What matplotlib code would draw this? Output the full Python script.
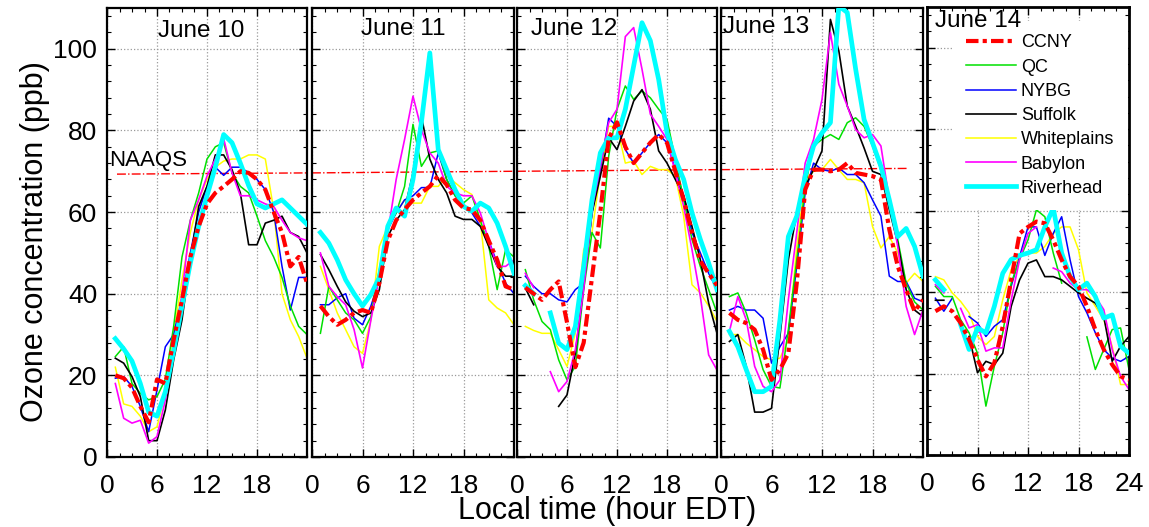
import numpy as np
import matplotlib
matplotlib.use("Agg")
import matplotlib.pyplot as plt
from matplotlib.ticker import MultipleLocator

plt.rcParams['font.family'] = ['Liberation Sans', 'DejaVu Sans']

nan = np.nan
hours = list(range(1, 25))
days = ["June 10", "June 11", "June 12", "June 13", "June 14"]
stations = ["CCNY", "QC", "NYBG", "Suffolk", "Whiteplains", "Babylon", "Riverhead"]

ccny = [
    [20, 19.3, 17, 12.4, 8.5, 19, 18, 28.7, 38.5, 49, 56.5, 62, 64.7, 66.3, 68, 70, 69.6, 68, 65.5, 60, 55, 46.7, 49, 42.6],
    [37, 34.4, 32.4, 33.6, 35.3, 36, 35.3, 42.6, 53, 58, 60.6, 63, 64.7, 66.3, 69, 66.7, 63, 61, 60.6, 58, 53, 48.3, 41.8, 41],
    [41.5, 40, 38.5, 41, 43, 33, 22, 28, 44, 60, 78, 82, 76, 72, 74.5, 77, 79, 77, 70, 63, 55, 48, 45, 42],
    [35.3, 33.6, 32.8, 31.2, 26.3, 18.9, 21.4, 25.4, 42.6, 65.5, 70.4, 70.4, 70, 70.4, 72, 69.6, 69.2, 68.8, 68, 55.7, 46.7, 41, 35.7, 38.5],
    [35.3, 36.5, 35.3, 32.4, 28.3, 23.4, 19.3, 22.6, 31.6, 43, 54.4, 56, 57.3, 56.9, 52.8, 47.9, 43.8, 41.4, 36.5, 30.8, 25.9, 22.2, 19.3, 18.5],
]
qc = [
    [24.6, 27, 18, 15.6, 14, 14.8, 19, 32, 49, 58, 64.7, 73, 76, 77, 69.6, 66.3, 64.7, 59, 53, 49, 44, 37, 32, 30],
    [30.3, 41.8, 38.5, 35.3, 33.6, 30.3, 34.4, 45.9, 56.5, 59.8, 66.3, 81.5, 71.2, 74.5, 75, 68, 64, 62.2, 64, 58, 51.6, 41, 50.8, 49],
    [45.9, 38.5, 33.2, 31.2, 23.8, 18.9, 22.2, 41, 55, 51.2, 73.7, 85.2, 90.9, 87.6, 89.7, 88, 85.2, 82.7, 72.9, 63, 53.3, 46.7, 41, 35.3],
    [39.3, 40.2, 35.3, 28.7, 21.4, 17.3, 16.9, 31.2, 48.3, 66.3, 76.2, 77.8, 79, 77.8, 81.9, 83.1, 81, 76.2, 70.4, 63, 53.3, 42.6, 38, 36],
    [41.4, 38.9, 38.9, 33.2, 30, 25, 12, 21.8, 30, 42.2, 48, 52.8, 60.2, 58.5, 49.6, 42.2, nan, nan, 29, 21, 25.9, 30.8, 31.2, 21],
]
nybg = [
    [19.3, 19.7, 17.3, 12.4, 6.2, 16.4, 27, 30, 39, 50, 60, 66.3, 71, 69, 71, 71, 69.6, 68, 65.5, 60, 46.7, 36, 44, 44],
    [37.3, 37.3, 39, 40, 34, 32.4, 37, 43.4, 55.7, 59.8, 63, 64, 66, 66, 74.5, 68, 64, 61.8, 59.8, 56.5, 53, 47.5, 42.6, 40],
    [44.3, 41.8, 40, 40, 38.5, 38, 41, 42.6, 59.8, 70.4, 83, 81, 75.3, 72, 74.5, 77, 79, 77, 70.4, 64, 55, 50, 45, 41],
    [36, 36.9, 36, 36, 34, 23, 27, 30.3, 46.7, 64.7, 72, 70.4, 70, 70.8, 69.2, 69.2, 67.2, 63, 59, 44.3, 43, 43, 38.9, 38],
    [38.5, 35.3, 38.5, nan, 34, 32.4, 29.1, 31.6, 33.2, 41.4, 48.7, 56, 56, 49, 54.4, 58.5, 47.9, 38.9, 34.9, 30, 25.9, 23.8, 23, 24.2],
]
suffolk = [
    [24.2, 23, 19.7, 14.8, 4, 4, 11.5, 23.8, 33.6, 48.3, 61.4, 66.3, 74, 74, 70.4, 64.7, 52, 52, 57.3, 58, 59, 55, 54, 50],
    [49.6, 45.9, 41.8, 38, 35.7, 34.4, 35.3, 41, 54, 58, 60.6, 69.6, 83.5, 73, 68, 64.7, 59, 58.2, 58.2, 56.5, 51.6, 46.7, 44.3, 44.3],
    [41.4, 37.3, nan, nan, 12.4, 15.2, 25.4, 41.8, 59.8, 68.8, 78.2, 75.3, 81, 87.2, 90, 85.2, 75, 72, 68, 64, 56.5, 48.3, 37.7, 30.3],
    [28.3, 30, 22.2, 11, 11, 11.9, 29.5, 48.3, 59.8, 66.3, 70.4, 75, 107.2, 99.5, 86, 81, 75.7, 70, 69.2, 60.6, 52.4, 41, 36, 34.4],
    [38, 38, nan, nan, 29.1, 20.2, 23, 22.2, 25, 36.5, 43, 47.1, 47.9, 43.8, 43.8, 43, 41.4, 39.8, 38.5, 37.3, 34, 23, 26.7, 29.1],
]
whiteplains = [
    [22, 13, 12.4, 10, 6.2, 7.4, 15.6, 30, 43.4, 55, 63, 68, 71, 72.5, 73, 73, 74, 74, 73, 60.6, 40, 33.6, 29.5, 24.2],
    [46.7, 41, 35.3, 31.2, 27, 25.4, 33.6, 51.6, 56.5, 59.8, 63, 62.2, 62.2, 66.3, 66.3, 68.8, 67.2, 65.5, 64.3, 58, 38.5, 36.5, 35.3, 32.4],
    [32, 31, 30.3, 30.3, 26.3, 22.2, 30.3, 50.8, 55, 69.6, 81, 81, 72, 72.5, 69.2, 71.2, 70.4, 70.4, 68.8, 59, 42.2, 40.2, 37, 33.2],
    [30, 30, 27.9, 26.3, 24.6, 23.8, 24.2, 28.7, 51.6, 68, 70, 70.4, 72.9, 70.4, 68, 68, 67.2, 56.5, 51.2, 54, 50, 42.6, 45, 43],
    [43.8, 43, 39.8, 37.7, 34.9, 29.1, 27.1, 29.1, 38.1, 45.5, 48.7, 49.6, 49.6, 51.2, 54.4, 56, 56, 50.4, 39.8, 36.5, 33.2, 26.7, 17.3, 17.3],
]
babylon = [
    [18, 9.5, 8.3, 9, 3.4, 5, 14, 26, 40, 58, 63, 68.8, 73, 78, 69.6, 64, 64, 63, 62, 61.4, 58, 55, 53.7, 53],
    [50, 41.8, 39.3, 37.3, 31.2, 21.8, 33.6, 44.3, 54.9, 68, 77.8, 88.4, 80.2, 74.5, 72, 66.3, 64.7, 64, 64, 59.8, 53, 46.7, 46.7, 48.3],
    [45, 41.5, nan, 20.9, 16, 18.5, 26.3, 41, 60.6, 71.2, 81.9, 85.2, 103, 105.2, 95, 84, 81, 77.8, 69.6, 61.4, 50.8, 39.3, 25, 21.3],
    [30.8, 39.3, 33.6, 22.2, 17.3, 16, 18.9, 38.5, 55, 72, 77.8, 87.6, 104, 91.3, 86, 80.2, 78.2, 79, 76.2, 63, 51.6, 36.9, 30, 36],
    [41.8, 39.8, nan, 36, 31.2, 32, 25.5, 26.3, 26.3, 38, 48, 54.4, 56, nan, 45.9, 45, 42.2, 40.6, 40.6, 38.9, 35.7, 25.9, 19.3, 16.1],
]
riverhead = [
    [29, 26.5, 23.5, 18, 11, 10, 16, 26, 37, 47.5, 56.5, 64, 71, 79, 77, 72, 66.5, 62, 61, 62, 63, 61, 59, 57],
    [55, 52.4, 48.3, 43.4, 40, 37, 39.8, 44, 56.5, 61, 59, 68, 82, 99, 75.3, 70.4, 65.5, 61.4, 60.2, 62.2, 61, 57.3, 51.6, 45],
    [42, 40, nan, 35.3, 27.9, 26.3, 32, 46.7, 63, 74.5, 78.2, 78.2, 85.2, 95.8, 106.4, 102, 92.5, 79.4, 72.9, 68, 59.8, 53.3, 47.5, 41],
    [30.8, 27, 21.4, 16, 16, 17.3, 33.6, 54, 59, 68.8, 76.2, 79.4, 81.9, 110.5, 108.9, 95, 82.7, 77, 71.2, 63, 54, 56, 51.6, 44.3],
    [43, 40.6, nan, 32, 25.9, 31.2, 30, 36.5, 44.6, 48, 49, 49.6, 50.4, 56, 60.6, 49.6, 43.8, 40.6, 42.2, 38.9, 33.6, 34.4, 26.7, 25],
]

# NAAQS reference line (start/end value per panel, hour range)
naaqs_y = [(69.3, 69.6), (69.6, 70.0), (70.0, 70.4), (70.4, 70.7)]
naaqs_x = [(1.2, 24), (0, 24), (0, 24), (0, 22.2)]

series = [ccny, qc, nybg, suffolk, whiteplains, babylon, riverhead]
colors = ["#ff0000", "#00e000", "#0000ff", "#000000", "#ffff00", "#ff00ff", "#00ffff"]
widths = [3.0, 1.1, 1.1, 1.2, 1.1, 1.2, 3.4]
styles = [(0, (3, 1.0, 1, 1.0)), "-", "-", "-", "-", "-", "-"]
zorders = [4, 2.2, 2.1, 2.3, 2.0, 2.4, 3]

W, H = 1149, 527
fig = plt.figure(figsize=(W / 100, H / 100), dpi=100)

panels_px = [(107, 307, 8, 457), (312, 514, 8, 457), (517, 717, 8, 457),
             (721, 923, 8, 457), (927, 1129, 7, 455)]
title_pos = [(11.3, 103.0), (10.8, 103.5), (6.8, 103.5), (5.35, 103.8), (6.1, 105.0)]

axes = []
for i, (l, r, t, b) in enumerate(panels_px):
    ax = fig.add_axes([l / W, (H - b) / H, (r - l) / W, (b - t) / H])
    axes.append(ax)
    for s, c, lw, ls, z, name in zip(series, colors, widths, styles, zorders, stations):
        ax.plot(hours, s[i], color=c, lw=lw, linestyle=ls, zorder=z, label=name)
    if i < 4:
        (x0, x1), (y0, y1) = naaqs_x[i], naaqs_y[i]
        ax.plot([x0, x1], [y0, y1], color="red", lw=1.0, linestyle="-.", zorder=1.9)
    ax.set_xlim(0, 24)
    ax.set_ylim(0, 110)
    ax.set_xticks([0, 6, 12, 18, 24] if i == 4 else [0, 6, 12, 18])
    ax.xaxis.set_minor_locator(MultipleLocator(1.5))
    ax.set_yticks([0, 20, 40, 60, 80, 100])
    ax.yaxis.set_minor_locator(MultipleLocator(4))
    ax.tick_params(which="both", direction="in", top=True, right=True, labelsize=19)
    ax.tick_params(which="major", length=6, width=1.0)
    ax.tick_params(which="minor", length=3, width=0.8)
    ax.tick_params(axis="x", pad=12)
    ax.tick_params(axis="y", pad=7)
    if i > 0:
        ax.tick_params(axis="y", labelleft=False)
    ax.grid(True, which="major", linestyle=":", color="#999999", lw=0.9)
    for sp in ax.spines.values():
        sp.set_linewidth(1.6 if i < 4 else 2.0)
    tx, ty = title_pos[i]
    ax.text(tx, ty, days[i], ha="center", va="baseline", fontsize=17.5, zorder=10)

axes[0].text(0.3, 71.2, "NAAQS", ha="left", va="baseline", fontsize=16)

leg = axes[4].legend(loc="upper left", bbox_to_anchor=(0.125, 0.969), borderaxespad=0,
                     fontsize=13, frameon=True, fancybox=False, framealpha=1,
                     facecolor="white", edgecolor="none", borderpad=0.75,
                     handlelength=2.8, handletextpad=0.25, labelspacing=0.4)
leg.set_zorder(5)

fig.text(35 / W, 1 - 242 / H, "Ozone concentration (ppb)", rotation=90,
         ha="center", va="center", fontsize=22)
fig.text(607 / W, 7.5 / H, "Local time (hour EDT)", ha="center", va="baseline", fontsize=22)

fig.savefig("out.png", dpi=100)
